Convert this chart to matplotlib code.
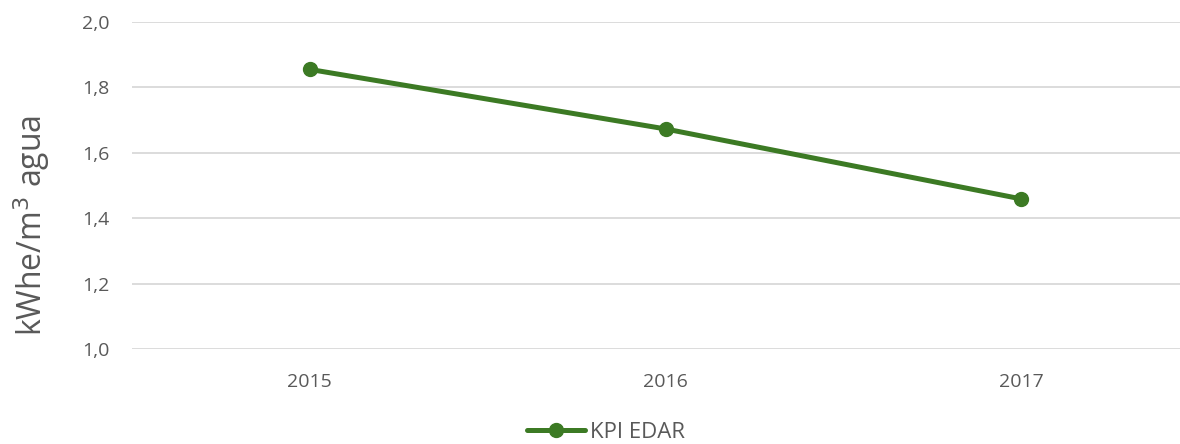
import matplotlib.pyplot as plt

# datos
anios = ['2015', '2016', '2017']
kpi_edar = [1.855, 1.673, 1.459]
yticks = [1.0, 1.2, 1.4, 1.6, 1.8, 2.0]
yticklabels = ['1,0', '1,2', '1,4', '1,6', '1,8', '2,0']

verde = '#3c7a24'
gris = '#595959'
plt.rcParams['font.family'] = ['Open Sans', 'DejaVu Sans']

fig = plt.figure(figsize=(11.8, 4.44), dpi=100)
# el area del grafico se sale un poco por la derecha, como en la imagen original
ax = fig.add_axes([132 / 1180, 1 - 349 / 444, (1199 - 132) / 1180, (349 - 22) / 444])

x = range(len(anios))
ax.plot(x, kpi_edar, color=verde, linewidth=3.6, marker='o', markersize=10,
        solid_capstyle='round', label='KPI EDAR', clip_on=False, zorder=3)

ax.set_xlim(-0.5, 2.5)
ax.set_ylim(1.0, 2.0)
ax.set_xticks(list(x))
ax.set_xticklabels(anios)
ax.set_yticks(yticks)
ax.set_yticklabels(yticklabels)
ax.tick_params(axis='both', length=0, labelsize=14, colors=gris)
ax.tick_params(axis='x', pad=17)
ax.tick_params(axis='y', pad=16.5)
ax.grid(axis='y', color='#d9d9d9', linewidth=1.3)
ax.set_axisbelow(True)
for s in ax.spines.values():
    s.set_visible(False)

fig.text(32 / 1180, 1 - 225 / 444, 'kWhe/m$^3$ agua', rotation=90, fontsize=23,
         color=gris, ha='center', va='center', math_fontfamily='dejavusans')

leg = fig.legend(loc='center', bbox_to_anchor=(606 / 1180, 1 - 432 / 444), frameon=False,
                 fontsize=16, handlelength=2.6, handletextpad=0.2, borderpad=0)
for t in leg.get_texts():
    t.set_color(gris)

fig.savefig('out.png', dpi=100)
